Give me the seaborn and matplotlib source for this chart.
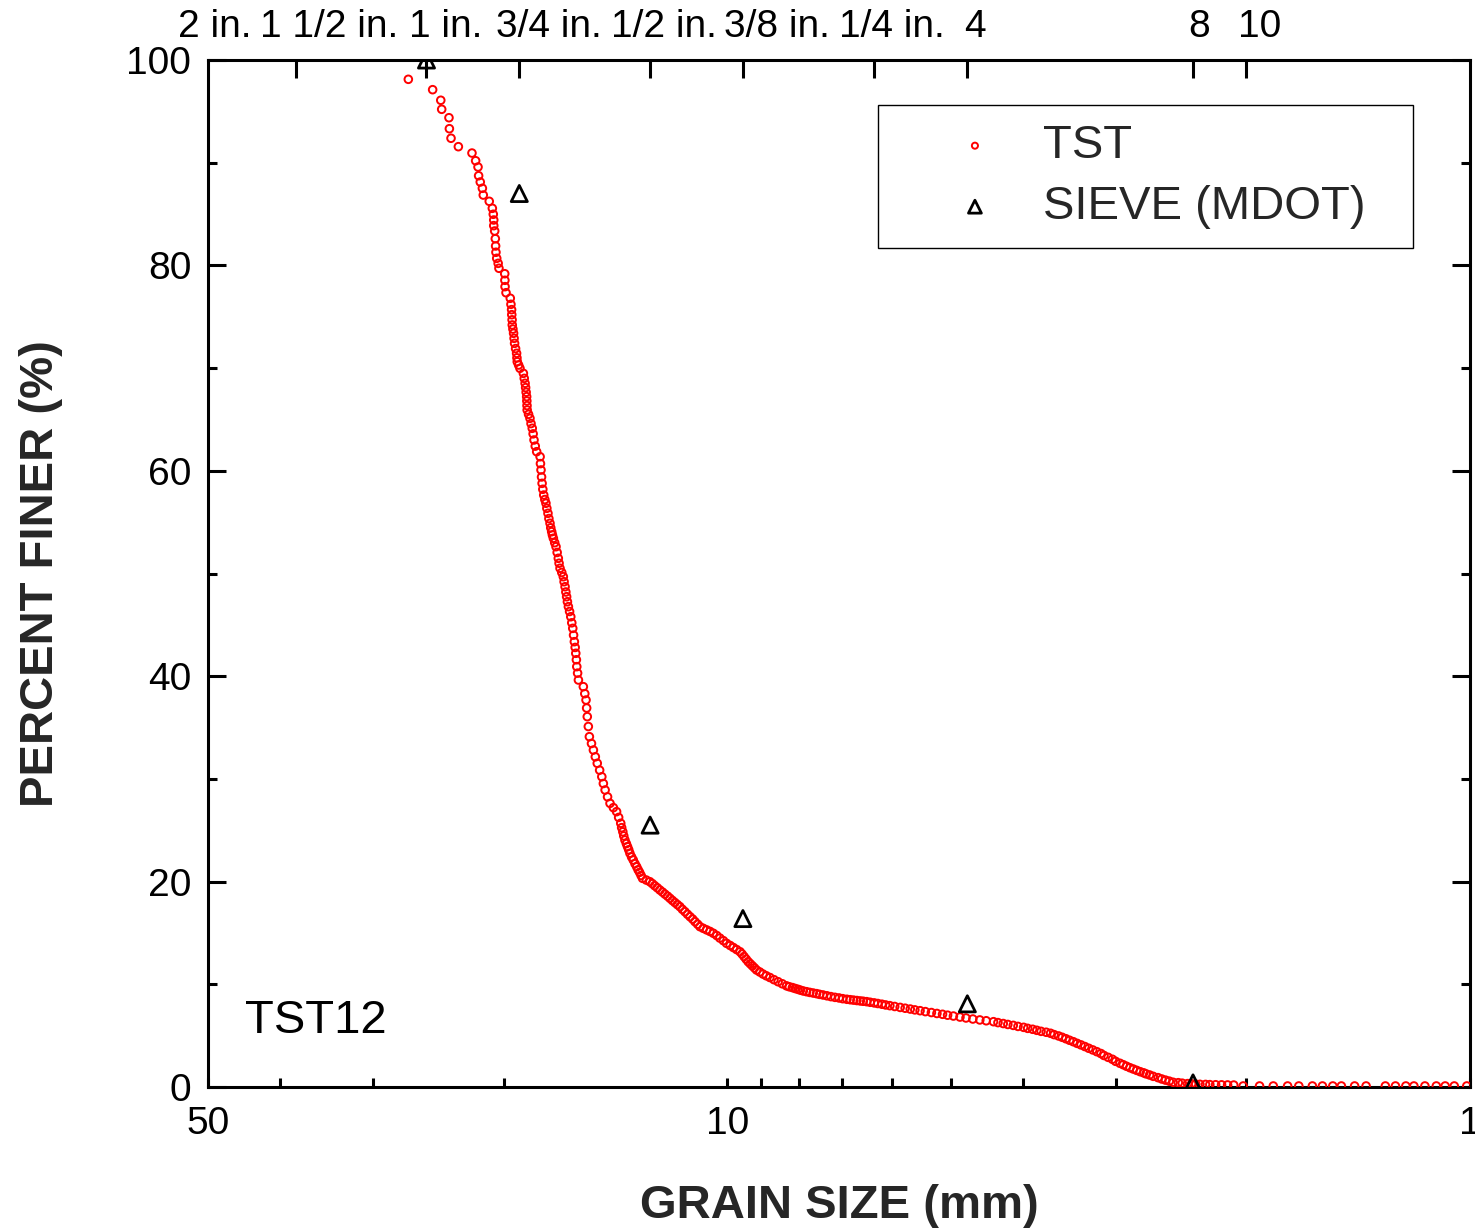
import matplotlib
matplotlib.use("Agg")
import matplotlib.pyplot as plt
import matplotlib.ticker as mticker
import numpy as np
import pandas as pd
import seaborn as sns

# ---------------- data ----------------
# TST curve, upper part (sparse points)
upper_size = [26.87, 24.92, 24.30, 24.23, 23.69, 23.66, 23.54, 23.01, 22.06, 21.81,
              21.65, 21.61, 21.50, 21.36, 21.30, 20.91, 20.71, 20.65, 20.62, 20.62,
              20.56, 20.52, 20.50, 20.48, 20.43, 20.34, 20.29, 19.93, 19.92, 19.91,
              19.85, 19.59, 19.55, 19.51]
upper_finer = [98.12, 97.11, 96.08, 95.20, 94.38, 93.31, 92.38, 91.56, 90.94, 90.19,
               89.58, 88.73, 88.12, 87.51, 86.85, 86.24, 85.56, 84.98, 84.42, 83.87,
               83.35, 82.60, 81.89, 81.28, 80.69, 80.20, 79.72, 79.19, 78.55, 77.93,
               77.34, 76.80, 76.21, 75.69]
# TST curve, steep middle part
steep_finer = [75.2, 74.7, 74.20, 73.8, 73.39, 72.9, 72.41, 71.9, 71.44, 71.0,
               70.62, 70.3, 69.98, 69.49, 69.0, 68.52, 68.1, 67.65, 67.22, 66.8,
               66.35, 65.92, 65.5, 65.11, 64.6, 64.14, 63.6, 63.0, 62.4, 61.86,
               61.37, 60.7, 60.08, 59.4, 58.78, 58.2, 57.64, 57.2, 56.84, 56.35,
               55.86, 55.35, 54.89, 54.45, 54.07, 53.75, 53.43, 53.0, 52.61, 52.05,
               51.48, 51.0, 50.51, 50.1, 49.69, 49.2, 48.71, 48.2, 47.74, 47.25,
               46.77, 46.3, 45.79, 45.2, 44.66, 44.0, 43.36, 42.8, 42.23, 41.6,
               40.93, 40.3, 39.63, 38.98, 38.3, 37.68, 36.9, 36.06, 35.1, 34.11,
               33.45, 32.81, 32.15, 31.52, 30.85, 30.21, 29.55, 28.92, 28.25, 27.62,
               27.2, 26.81, 26.25, 25.68, 25.25, 24.85, 24.45, 24.05, 23.7, 23.4,
               23.1, 22.76, 22.4, 22.1, 21.75, 21.45, 21.15, 20.9, 20.6, 20.32,
               20.15, 19.99, 19.8, 19.6, 19.4, 19.18, 18.98, 18.78, 18.58, 18.37,
               18.16, 17.96, 17.76, 17.56, 17.3, 17.07, 16.82, 16.58, 16.35, 16.1,
               15.85, 15.61, 15.45, 15.3, 15.15, 14.97, 14.75, 14.5, 14.25, 13.99,
               13.78, 13.58, 13.38, 13.17, 12.95, 12.7, 12.45, 12.20, 12.0, 11.8,
               11.6, 11.39, 11.2, 11.0, 10.83, 10.66, 10.45, 10.25, 10.05]
steep_size = [19.50, 19.48, 19.47, 19.43, 19.39, 19.36, 19.33, 19.27, 19.21, 19.19,
              19.17, 19.09, 19.01, 18.81, 18.76, 18.71, 18.68, 18.65, 18.62, 18.61,
              18.60, 18.59, 18.51, 18.43, 18.37, 18.30, 18.25, 18.20, 18.13, 18.05,
              17.86, 17.84, 17.81, 17.78, 17.75, 17.71, 17.66, 17.60, 17.54, 17.49,
              17.43, 17.38, 17.32, 17.28, 17.23, 17.19, 17.14, 17.07, 17.00, 16.94,
              16.88, 16.84, 16.79, 16.70, 16.62, 16.58, 16.53, 16.49, 16.45, 16.41,
              16.36, 16.30, 16.24, 16.19, 16.14, 16.10, 16.06, 16.02, 15.99, 15.96,
              15.94, 15.90, 15.86, 15.62, 15.55, 15.49, 15.46, 15.43, 15.38, 15.33,
              15.23, 15.14, 15.05, 14.96, 14.85, 14.75, 14.68, 14.60, 14.49, 14.38,
              14.23, 14.09, 14.00, 13.91, 13.87, 13.82, 13.78, 13.73, 13.67, 13.62,
              13.57, 13.52, 13.45, 13.38, 13.31, 13.24, 13.18, 13.12, 13.06, 13.00,
              12.85, 12.71, 12.61, 12.52, 12.42, 12.32, 12.22, 12.13, 12.03, 11.94,
              11.85, 11.76, 11.67, 11.58, 11.49, 11.40, 11.31, 11.22, 11.13, 11.05,
              10.96, 10.88, 10.77, 10.66, 10.55, 10.44, 10.33, 10.23, 10.12, 10.02,
              9.91, 9.81, 9.71, 9.61, 9.55, 9.49, 9.43, 9.37, 9.31, 9.25,
              9.19, 9.13, 9.04, 8.95, 8.86, 8.76, 8.65, 8.54, 8.43]
# TST curve, flat lower part
flat_size = [8.32, 8.25, 8.17, 8.10, 8.03, 7.97, 7.90, 7.82, 7.74, 7.66,
             7.58, 7.51, 7.43, 7.34, 7.25, 7.16, 7.07, 6.99, 6.90, 6.83,
             6.76, 6.69, 6.62, 6.56, 6.49, 6.42, 6.34, 6.27, 6.19, 6.12,
             6.04, 5.95, 5.85, 5.76, 5.67, 5.59, 5.50, 5.41, 5.31, 5.22,
             5.13, 5.05, 4.96, 4.86, 4.77, 4.67, 4.57, 4.48, 4.38, 4.32,
             4.25, 4.19, 4.12, 4.06, 3.99, 3.94, 3.88, 3.83, 3.78, 3.72,
             3.67, 3.63, 3.58, 3.54, 3.50, 3.46, 3.42, 3.38, 3.34, 3.30,
             3.26, 3.22, 3.18, 3.14, 3.11, 3.07, 3.03, 3.00, 2.96, 2.93,
             2.90, 2.87, 2.84, 2.81, 2.78, 2.75, 2.73, 2.70, 2.67, 2.63,
             2.60, 2.57, 2.54, 2.51, 2.47, 2.44, 2.40, 2.37, 2.34, 2.31,
             2.27, 2.24, 2.20, 2.16, 2.12, 2.08]
flat_finer = [9.85, 9.76, 9.68, 9.59, 9.51, 9.43, 9.35, 9.28, 9.21, 9.15,
              9.09, 9.02, 8.96, 8.88, 8.80, 8.73, 8.67, 8.60, 8.54, 8.50,
              8.46, 8.42, 8.38, 8.35, 8.31, 8.25, 8.19, 8.13, 8.06, 7.99,
              7.92, 7.84, 7.75, 7.67, 7.59, 7.51, 7.43, 7.34, 7.25, 7.16,
              7.08, 6.99, 6.91, 6.81, 6.72, 6.62, 6.53, 6.45, 6.36, 6.27,
              6.18, 6.09, 6.00, 5.90, 5.81, 5.71, 5.62, 5.52, 5.42, 5.33,
              5.23, 5.10, 4.97, 4.84, 4.70, 4.55, 4.41, 4.25, 4.10, 3.94,
              3.77, 3.61, 3.44, 3.26, 3.07, 2.89, 2.70, 2.50, 2.31, 2.17,
              2.02, 1.88, 1.75, 1.62, 1.49, 1.38, 1.28, 1.17, 1.04, 0.91,
              0.78, 0.67, 0.57, 0.46, 0.42, 0.37, 0.33, 0.31, 0.28, 0.26,
              0.25, 0.23, 0.22, 0.21, 0.20, 0.19]
# TST curve, fine tail
tail_size = [2.02, 1.92, 1.84, 1.76, 1.70, 1.63, 1.58, 1.53, 1.49, 1.43,
             1.38, 1.30, 1.26, 1.22, 1.19, 1.15, 1.11, 1.08, 1.05, 1.01]
tail_finer = [0.10, 0.10, 0.10, 0.10, 0.10, 0.10, 0.10, 0.10, 0.10, 0.10,
              0.10, 0.10, 0.10, 0.10, 0.10, 0.10, 0.10, 0.10, 0.10, 0.10]

# sieve analysis (MDOT)
sieve_size = [25.4, 19.05, 12.7, 9.525, 4.75, 2.36]
sieve_finer = [100.0, 87.0, 25.5, 16.4, 8.1, 0.4]

# top-axis sieve openings (mm) and their names
top_tick_size = [38.1, 25.4, 19.05, 12.7, 9.525, 6.35, 4.75, 2.36, 2.0]
top_labels = ["2 in.", "1 1/2 in.", "1 in.", "3/4 in.", "1/2 in.",
              "3/8 in.", "1/4 in.", "4", "8", "10"]
top_label_pos = [0.005, 0.096, 0.188, 0.270, 0.361, 0.451, 0.542, 0.608, 0.785, 0.833]

bottom_ticks = [50, 10, 1]
bottom_minor = [40, 30, 20, 9, 8, 7, 6, 5, 4, 3, 2]
y_major = [0, 20, 40, 60, 80, 100]
y_minor = [10, 30, 50, 70, 90]

tst = pd.DataFrame({
    "size": upper_size + steep_size + flat_size + tail_size,
    "finer": upper_finer + steep_finer + flat_finer + tail_finer,
})
sieve = pd.DataFrame({"size": sieve_size, "finer": sieve_finer})

# ---------------- style ----------------
sns.set_theme(style="white")
plt.rcParams["font.family"] = ["Liberation Sans", "DejaVu Sans"]
plt.rcParams["axes.linewidth"] = 2.2

fig = plt.figure(figsize=(14.75, 12.28), dpi=100)
ax = fig.add_axes([208 / 1475, 1 - 1087 / 1228, 1262 / 1475, 1027 / 1228])

sns.scatterplot(data=tst, x="size", y="finer", ax=ax, marker="o", s=30,
                facecolor="none", edgecolor="#ff0000", linewidth=1.4,
                label="TST", zorder=3)
sns.scatterplot(data=sieve, x="size", y="finer", ax=ax, marker="^", s=135,
                facecolor="none", edgecolor="black", linewidth=2.0,
                label="SIEVE (MDOT)", zorder=4)

ax.set_xscale("log")
ax.set_xlim(50, 1)
ax.set_ylim(0, 100)

ax.xaxis.set_major_locator(mticker.FixedLocator(bottom_ticks))
ax.xaxis.set_major_formatter(mticker.FixedFormatter([str(t) for t in bottom_ticks]))
ax.xaxis.set_minor_locator(mticker.FixedLocator(bottom_minor))
ax.xaxis.set_minor_formatter(mticker.NullFormatter())
ax.yaxis.set_major_locator(mticker.FixedLocator(y_major))
ax.yaxis.set_minor_locator(mticker.FixedLocator(y_minor))

ax.tick_params(which="both", direction="in", width=2.2, colors="black",
               top=False, right=True, left=True, bottom=True,
               labelsize=28, pad=12)
ax.tick_params(which="major", length=13)
ax.tick_params(which="minor", length=6.5)
ax.tick_params(axis="x", which="major", length=6.5, pad=14)

for sp in ax.spines.values():
    sp.set_color("black")
    sp.set_linewidth(2.2)

ax.set_xlabel("GRAIN SIZE (mm)", fontsize=34, fontweight="bold", labelpad=30)
ax.set_ylabel("PERCENT FINER (%)", fontsize=34, fontweight="bold", labelpad=46)

# top axis with sieve ticks
ax2 = ax.twiny()
ax2.set_xscale("log")
ax2.set_xlim(50, 1)
ax2.xaxis.set_major_locator(mticker.FixedLocator(top_tick_size))
ax2.xaxis.set_major_formatter(mticker.NullFormatter())
ax2.xaxis.set_minor_locator(mticker.NullLocator())
ax2.tick_params(axis="x", which="major", direction="in", length=13, width=2.2,
                colors="black")
for sp in ax2.spines.values():
    sp.set_visible(False)
for lab, xp in zip(top_labels, top_label_pos):
    ax.text(xp, 1.0224, lab, transform=ax.transAxes, fontsize=28,
            ha="center", va="baseline", color="black")

ax.text(0.029, 0.0526, "TST12", transform=ax.transAxes, fontsize=34,
        ha="left", va="baseline", color="black")

leg = ax.legend(loc="upper left", bbox_to_anchor=(0.531, 0.0, 0.424, 0.956),
                mode="expand", borderaxespad=0, fontsize=34, frameon=True,
                fancybox=False, framealpha=1, edgecolor="black",
                borderpad=0.4, labelspacing=0.36, handlelength=3.3,
                handletextpad=-0.2, markerscale=0.8)
leg.get_frame().set_linewidth(1.0)

fig.savefig("out.png", dpi=100)
